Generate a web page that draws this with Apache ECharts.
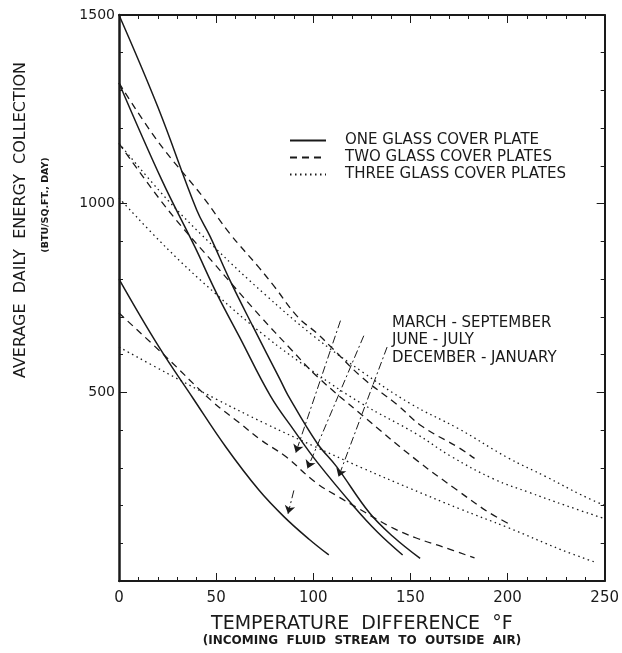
<!DOCTYPE html>
<html>
<head>
<meta charset="utf-8">
<script src="https://cdn.jsdelivr.net/npm/echarts@6/dist/echarts.min.js"></script>
<style>
  html, body { margin: 0; padding: 0; background: #fff; }
  #chart { width: 622px; height: 653px; }
</style>
</head>
<body>
<div id="chart"></div>
<script>
// temperature difference (F) vs daily collection (Btu/sq.ft., day)
const oneJuneJuly = [[0, 1500], [20, 1256], [40, 983], [47, 912], [57, 798], [69, 674], [83, 533], [87, 492], [102, 365], [112, 303], [129, 180], [141, 118], [155, 60]];
const oneMarchSept = [[0, 1320], [22, 1063], [39, 886], [50, 765], [62, 647], [78, 490], [90, 400], [102, 315], [121, 197], [133, 130], [146, 69]];
const oneDecJan = [[0, 800], [20, 625], [38, 485], [55, 355], [72, 241], [85, 170], [98, 110], [108, 69]];

const twoJuneJuly = [[0, 1320], [20, 1165], [43, 1019], [57, 921], [72, 831], [80, 780], [92, 700], [102, 656], [109, 621], [125, 540], [143, 468], [156, 410], [175, 353], [183, 325]];
const twoMarchSept = [[0, 1160], [25, 985], [50, 835], [73, 700], [88, 617], [102, 542], [125, 440], [153, 321], [174, 241], [190, 183], [202, 148]];
const twoDecJan = [[0, 710], [24, 595], [48, 476], [62, 419], [73, 374], [86, 329], [101, 262], [113, 223], [123, 193], [140, 143], [153, 114], [167, 90], [183, 61]];

const threeJuneJuly = [[0, 1160], [25, 1010], [50, 880], [75, 760], [100, 650], [125, 555], [150, 470], [175, 403], [200, 327], [220, 276], [238, 228], [250, 200]];
const threeMarchSept = [[0, 1015], [25, 880], [50, 760], [75, 650], [100, 555], [125, 470], [153, 390], [171, 330], [193, 270], [211, 235], [230, 200], [250, 165]];
const threeDecJan = [[0, 620], [25, 550], [50, 482], [75, 418], [100, 358], [125, 300], [150, 245], [175, 192], [200, 142], [228, 82], [245, 50]];

// leader lines from the season notes down to the curves
const pointers = [
    [[114, 690], [91, 340]],
    [[126, 650], [97, 298]],
    [[138, 620], [113, 276]],
    [[90, 240], [87, 178]]
];

const xTicks = [0, 50, 100, 150, 200, 250];
const yTicks = [500, 1000, 1500];

const legendNames = ['ONE GLASS COVER PLATE', 'TWO GLASS COVER PLATES', 'THREE GLASS COVER PLATES'];
const seasonNotes = ['MARCH - SEPTEMBER', 'JUNE - JULY', 'DECEMBER - JANUARY'];

const ink = '#1a1a1a';
const font = 'DejaVu Sans';

const chart = echarts.init(document.getElementById('chart'));

function curve(name, data, type) {
    let lineStyle = { color: ink, width: 1.5, type: 'solid' };
    if (type === 'dashed') {
        lineStyle = { color: ink, width: 1.3, type: [7, 5] };
    }
    if (type === 'dotted') {
        lineStyle = { color: ink, width: 1.3, type: [1.5, 3.5] };
    }
    return {
        name: name,
        type: 'line',
        data: data,
        smooth: 0.4,
        showSymbol: false,
        symbol: 'none',
        color: ink,
        lineStyle: lineStyle,
        silent: true,
        animation: false
    };
}

const axisCommon = {
    axisLine: { show: true, onZero: false, lineStyle: { color: ink, width: 2 } },
    splitLine: { show: false },
    axisTick: { show: true, inside: true, length: 8, lineStyle: { color: ink, width: 1 } },
    minorTick: { show: true, splitNumber: 5, length: 4, lineStyle: { color: ink, width: 1 } }
};

chart.setOption({
    backgroundColor: '#fff',
    animation: false,
    grid: { left: 119, right: 8, top: 15, bottom: 72 },
    legend: {
        data: legendNames,
        orient: 'vertical',
        left: 284,
        top: 128,
        itemWidth: 36,
        itemHeight: 12,
        itemGap: 2,
        selectedMode: false,
        itemStyle: { color: 'rgba(0,0,0,0)', borderWidth: 0, opacity: 0 },
        textStyle: { fontFamily: font, fontSize: 15, color: ink, padding: [0, 0, 0, 14] }
    },
    xAxis: [
        {
            type: 'value',
            min: 0,
            max: 250,
            interval: 50,
            ...axisCommon,
            axisLabel: {
                color: ink, fontFamily: font, fontSize: 15, margin: 10,
                formatter: v => xTicks.includes(v) ? String(v) : ''
            },
            name: 'TEMPERATURE  DIFFERENCE  °F',
            nameLocation: 'middle',
            nameGap: 34,
            nameTextStyle: { color: ink, fontFamily: font, fontSize: 19 }
        },
        {
            type: 'value',
            position: 'top',
            min: 0,
            max: 250,
            interval: 50,
            ...axisCommon,
            axisLabel: { show: false }
        }
    ],
    yAxis: [
        {
            type: 'value',
            min: 0,
            max: 1500,
            interval: 500,
            ...axisCommon,
            axisLine: { show: true, onZero: false, lineStyle: { color: ink, width: 2.5 } },
            axisLabel: {
                color: ink, fontFamily: font, fontSize: 14, margin: 4,
                formatter: v => yTicks.includes(v) ? String(v) : ''
            }
        },
        {
            type: 'value',
            position: 'right',
            min: 0,
            max: 1500,
            interval: 500,
            ...axisCommon,
            axisLabel: { show: false }
        }
    ],
    graphic: [
        {
            type: 'text',
            x: 21,
            y: 220,
            rotation: Math.PI / 2,
            style: {
                text: 'AVERAGE  DAILY  ENERGY  COLLECTION',
                fill: ink,
                font: '16px "DejaVu Sans"',
                align: 'center',
                verticalAlign: 'middle'
            }
        },
        {
            type: 'text',
            x: 46,
            y: 205,
            rotation: Math.PI / 2,
            style: {
                text: '(BTU/SQ.FT., DAY)',
                fill: ink,
                font: 'bold 9.5px "DejaVu Sans"',
                align: 'center',
                verticalAlign: 'middle'
            }
        },
        {
            type: 'text',
            x: 362,
            y: 641,
            style: {
                text: '(INCOMING  FLUID  STREAM  TO  OUTSIDE  AIR)',
                fill: ink,
                font: 'bold 12px "DejaVu Sans"',
                align: 'center',
                verticalAlign: 'middle'
            }
        },
        ...seasonNotes.map((t, i) => ({
            type: 'text',
            x: 392,
            y: 323 + i * 17.5,
            style: {
                text: t,
                fill: ink,
                font: '15px "DejaVu Sans"',
                verticalAlign: 'middle'
            }
        }))
    ],
    series: [
        curve(legendNames[0], oneJuneJuly, 'solid'),
        curve(legendNames[0], oneMarchSept, 'solid'),
        curve(legendNames[0], oneDecJan, 'solid'),
        curve(legendNames[1], twoJuneJuly, 'dashed'),
        curve(legendNames[1], twoMarchSept, 'dashed'),
        curve(legendNames[1], twoDecJan, 'dashed'),
        curve(legendNames[2], threeJuneJuly, 'dotted'),
        curve(legendNames[2], threeMarchSept, 'dotted'),
        curve(legendNames[2], threeDecJan, 'dotted'),
        {
            name: 'pointers',
            type: 'lines',
            coordinateSystem: 'cartesian2d',
            silent: true,
            symbol: ['none', 'arrow'],
            symbolSize: 8,
            lineStyle: { color: ink, width: 1, type: [8, 3, 2, 3], opacity: 1 },
            data: pointers.map(p => ({ coords: p }))
        }
    ]
});
</script>
</body>
</html>
